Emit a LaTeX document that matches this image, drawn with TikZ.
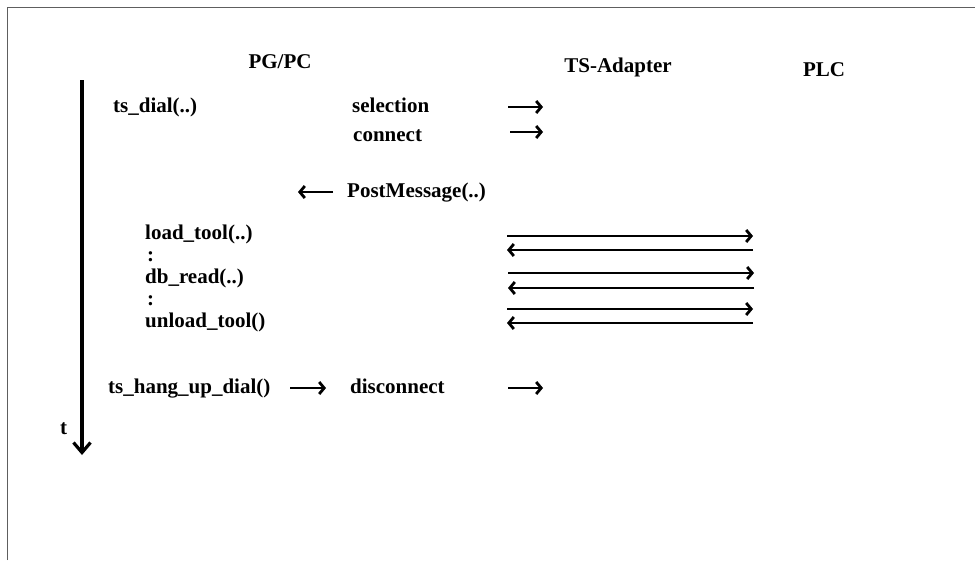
\documentclass[tikz,border=0pt]{standalone}
\usepackage{fontspec}
\setmainfont{Liberation Serif}
\usetikzlibrary{arrows.meta}
\definecolor{framegray}{HTML}{5E5E5E}
\begin{document}
\begin{tikzpicture}[x=1pt,y=-1pt,
  lbl/.style={anchor=base west, inner sep=0pt, font=\fontsize{21}{25}\selectfont\bfseries},
  head/.style={anchor=base, inner sep=0pt, font=\fontsize{21}{25}\selectfont\bfseries},
  msg/.style={line width=2.8pt, -{Straight Barb[length=5pt,width=12pt]}},
  timeax/.style={line width=3.2pt, -{Straight Barb[length=10pt,width=17pt]}}]
\useasboundingbox (0,0) rectangle (975,560);
\draw[framegray, line width=1.8pt] (7.5,560) -- (7.5,7.5) -- (975,7.5);
% headers
\node[head] (pgpc) at (280,68) {PG/PC};
\node[head] (tsad) at (618,72) {TS-Adapter};
\node[head] (plc) at (824,76) {PLC};
% time axis
\coordinate (t0) at (82,80);
\coordinate (t1) at (82,455);
\draw[timeax] (t0) -- (t1);
\node[lbl] (tlab) at (60,434) {t};
% texts
\node[lbl] (dial) at (113,112) {ts\_dial(..)};
\node[lbl] (sel) at (352,112) {selection};
\node[lbl] (conn) at (353,141) {connect};
\node[lbl] (post) at (347,197) {PostMessage(..)};
\node[lbl] (load) at (145,239) {load\_tool(..)};
\node[lbl] (dots1) at (147,261) {:};
\node[lbl] (dbr) at (145,283) {db\_read(..)};
\node[lbl] (dots2) at (147,305) {:};
\node[lbl] (unload) at (145,327) {unload\_tool()};
\node[lbl] (hang) at (108,393) {ts\_hang\_up\_dial()};
\node[lbl] (disc) at (350,393) {disconnect};
% short arrows
\coordinate (s0) at (508,107); \coordinate (s1) at (543,107);
\coordinate (c0) at (510,132); \coordinate (c1) at (543,132);
\coordinate (p0) at (333,192); \coordinate (p1) at (298,192);
\coordinate (h0) at (290,388); \coordinate (h1) at (326,388);
\coordinate (d0) at (508,388); \coordinate (d1) at (543,388);
\draw[msg] (s0) -- (s1);
\draw[msg] (c0) -- (c1);
\draw[msg] (p0) -- (p1);
\draw[msg] (h0) -- (h1);
\draw[msg] (d0) -- (d1);
% long arrows
\coordinate (a0) at (507,236); \coordinate (a1) at (753,236);
\coordinate (b0) at (753,250); \coordinate (b1) at (507,250);
\coordinate (e0) at (508,273); \coordinate (e1) at (754,273);
\coordinate (f0) at (754,288); \coordinate (f1) at (508,288);
\coordinate (g0) at (507,309); \coordinate (g1) at (753,309);
\coordinate (k0) at (753,323); \coordinate (k1) at (507,323);
\draw[msg] (a0) -- (a1);
\draw[msg] (b0) -- (b1);
\draw[msg] (e0) -- (e1);
\draw[msg] (f0) -- (f1);
\draw[msg] (g0) -- (g1);
\draw[msg] (k0) -- (k1);
\end{tikzpicture}
\end{document}
